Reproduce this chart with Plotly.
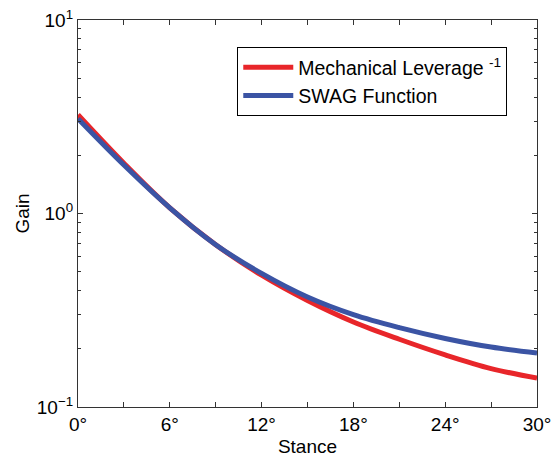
import plotly.graph_objects as go

stance = [0, 3, 6, 9, 12, 15, 18, 21, 24, 27, 30]
mech_leverage_inv = [3.24, 1.82, 1.07, 0.69, 0.48, 0.355, 0.275, 0.224, 0.186, 0.158, 0.141]
swag_function = [3.09, 1.78, 1.07, 0.69, 0.49, 0.37, 0.30, 0.257, 0.226, 0.204, 0.19]

x_tickvals = [0, 6, 12, 18, 24, 30]
x_ticktext = ["0°", "6°", "12°", "18°", "24°", "30°"]
y_tickvals = [0.1, 1, 10]
y_ticktext = ["10<sup>−1</sup>", "10<sup>0</sup>", "10<sup>1</sup>"]

RED = "#e8262a"
BLUE = "#3b54a4"
AX = "#333333"
FONT = "Liberation Sans, Arial, sans-serif"

fig = go.Figure()
fig.add_trace(go.Scatter(x=stance, y=mech_leverage_inv, mode="lines",
                         line=dict(color=RED, width=5, shape="spline"),
                         name="Mechanical Leverage <sup>-1</sup>"))
fig.add_trace(go.Scatter(x=stance, y=swag_function, mode="lines",
                         line=dict(color=BLUE, width=5, shape="spline"),
                         name="SWAG Function"))

fig.update_layout(
    width=551, height=457,
    margin=dict(l=78, r=14, t=20, b=50, autoexpand=False),
    paper_bgcolor="white", plot_bgcolor="white",
    font=dict(family=FONT, size=19, color="black"),
    showlegend=True,
    legend=dict(x=0.347, y=0.93, xanchor="left", yanchor="top",
                bordercolor="black", borderwidth=1, bgcolor="white",
                font=dict(size=19.5), itemwidth=50, tracegroupgap=0),
    xaxis=dict(range=[0, 30], tickvals=x_tickvals, ticktext=x_ticktext,
               ticks="inside", ticklen=5, tickcolor=AX, automargin=False,
               ticklabeloverflow="allow",
               showline=True, linecolor=AX, linewidth=1.2, mirror="ticks",
               showgrid=False, zeroline=False,
               minor=dict(tickvals=[3, 9, 15, 21, 27], ticks="inside", ticklen=5, tickcolor=AX, showgrid=False),
               title=dict(text="Stance", standoff=6, font=dict(size=19))),
    yaxis=dict(type="log", range=[-1, 1], tickvals=y_tickvals, ticktext=y_ticktext,
               ticks="inside", ticklen=5, tickcolor=AX, automargin=False,
               ticklabeloverflow="allow",
               showline=True, linecolor=AX, linewidth=1.2, mirror="ticks",
               showgrid=False, zeroline=False,
               minor=dict(ticks="inside", ticklen=3, tickcolor=AX, dtick="D1", showgrid=False),
               title=dict(text="Gain", standoff=2, font=dict(size=19))),
)

fig.write_html("out.html")
